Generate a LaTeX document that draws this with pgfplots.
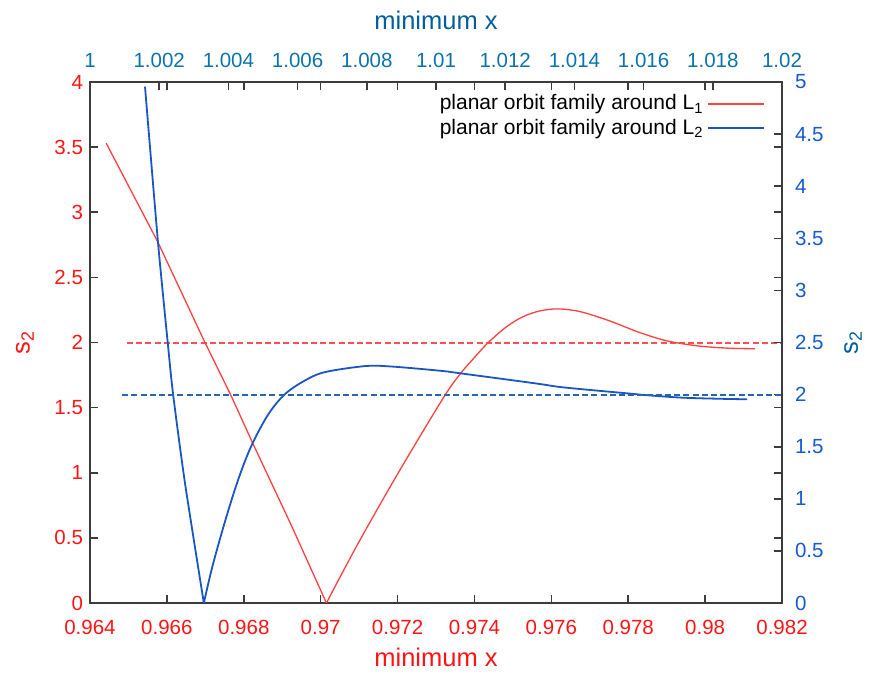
\documentclass[border=0pt]{standalone}
\usepackage{fontspec}
\setmainfont{Liberation Sans}
\usepackage{pgfplots}
\pgfplotsset{compat=1.18}
\definecolor{l1red}{RGB}{255,64,64}
\definecolor{l1dash}{RGB}{255,80,80}
\definecolor{l1text}{RGB}{255,20,20}
\definecolor{l2blue}{RGB}{25,85,195}
\definecolor{l2dash}{RGB}{40,100,180}
\definecolor{toptick}{RGB}{10,115,170}
\definecolor{righttick}{RGB}{20,90,210}
\definecolor{topcol}{RGB}{0,95,155}
\definecolor{framecol}{RGB}{60,60,60}
\begin{document}
\begin{tikzpicture}
\pgfplotsset{
  every axis/.append style={
    scale only axis, width=346pt, height=260.5pt,
    scaled ticks=false,
    /pgf/number format/assume math mode=true,
    /pgf/number format/fixed, /pgf/number format/precision=3,
    tick label style={font=\fontsize{10.25}{12}\selectfont},
    label style={font=\fontsize{12.75}{15}\selectfont},
    axis line style={draw=framecol, line width=1pt},
    major tick style={draw=framecol, line width=0.8pt},
    major tick length=4pt,
    minor tick num=0,
  }
}
\begin{axis}[
  name=ax1,
  xmin=0.964, xmax=0.982, ymin=0, ymax=4,
  xtick={0.964,0.966,0.968,0.97,0.972,0.974,0.976,0.978,0.98,0.982},
  ytick={0,0.5,1,1.5,2,2.5,3,3.5,4},
  xtick pos=both, ytick pos=both,
  xticklabel pos=lower, yticklabel pos=left,
  ticklabel style={text=l1text},
  xticklabel style={yshift=-5pt},
  xlabel={minimum x}, ylabel={s\textsubscript{2}},
  label style={text=l1text},
  xlabel style={at={(axis description cs:0.5,0)}, anchor=center, yshift=-27pt},
  ylabel style={at={(axis description cs:0,0.5)}, anchor=center, yshift=32.5pt},
]
\addplot[l1dash, line width=1pt, dash pattern=on 3pt off 1.6pt] coordinates {(0.96496,2) (0.982,2)};
\addplot[l1red, line width=0.65pt] coordinates {
(0.96442,3.531) (0.96576,2.774) (0.96699,2.000) (0.96766,1.598) (0.96822,1.235)
(0.96925,0.588) (0.97015,0.000)
};
\addplot[l1red, line width=0.65pt, smooth, tension=0.55] coordinates {
(0.97015,0.000) (0.97096,0.450) (0.97200,0.990) (0.97318,1.570)
(0.97362,1.755) (0.97397,1.875) (0.97436,2.000) (0.97484,2.122)
(0.97527,2.199) (0.97571,2.243) (0.97618,2.258) (0.97675,2.237)
(0.97744,2.174) (0.97796,2.115) (0.97831,2.075)
(0.97900,2.013) (0.97978,1.975) (0.98056,1.957) (0.98130,1.952)
};
\end{axis}
\begin{axis}[
  name=ax2,
  xmin=1, xmax=1.02, ymin=0, ymax=5,
  axis x line*=top, axis y line*=right,
  xtick pos=right, ytick pos=right,
  xticklabel pos=upper, yticklabel pos=right,
  xtick={1,1.002,1.004,1.006,1.008,1.01,1.012,1.014,1.016,1.018,1.02},
  ytick={0,0.5,1,1.5,2,2.5,3,3.5,4,4.5,5},
  xticklabel style={text=toptick, yshift=3.5pt},
  yticklabel style={text=righttick, xshift=3pt},
  xlabel={minimum x}, ylabel={s\textsubscript{2}},
  label style={text=topcol},
  xlabel style={at={(axis description cs:0.5,1)}, anchor=center, yshift=31pt},
  ylabel style={at={(axis description cs:1,0.5)}, anchor=center, yshift=-35.5pt},
  legend style={at={(rel axis cs:0.985,0.992)}, anchor=north east, draw=none, fill=none,
    font=\fontsize{10.5}{12}\selectfont, row sep=-1pt},
  legend cell align=right,
  legend plot pos=right,
  legend image code/.code={\draw[#1] (0pt,0pt) -- (28pt,0pt);},
]
\addlegendimage{l1red, line width=0.9pt}
\addlegendentry{planar orbit family around L\textsubscript{1}}
\addlegendimage{l2blue, line width=0.9pt}
\addlegendentry{planar orbit family around L\textsubscript{2}}
\addplot[l2blue, line width=0.9pt, smooth, tension=0.4, forget plot] coordinates {
(1.00159,4.955) (1.00196,3.480) (1.00225,2.487) (1.00240,2.007) (1.00274,1.162)
(1.00329,0.000)
};
\addplot[l2blue, line width=0.9pt, smooth, tension=0.55, forget plot] coordinates {
(1.00329,0.000) (1.00354,0.353) (1.00392,0.803) (1.00430,1.200) (1.00468,1.520)
(1.00516,1.814) (1.00564,2.006) (1.00621,2.135) (1.00678,2.215)
(1.00793,2.273) (1.00869,2.270) (1.01015,2.228) (1.01073,2.203)
(1.01227,2.135) (1.01304,2.100) (1.01372,2.068) (1.01556,2.011) (1.01614,1.993)
(1.01710,1.971) (1.01807,1.961) (1.01899,1.955)
};
\addplot[l2dash, line width=1pt, dash pattern=on 3pt off 1.6pt, forget plot] coordinates {(1.00093,2) (1.02,2)};
\end{axis}
\path ([xshift=-45pt,yshift=-36pt]ax2.south west) rectangle ([xshift=44pt,yshift=41pt]ax2.north east);
\end{tikzpicture}
\end{document}
